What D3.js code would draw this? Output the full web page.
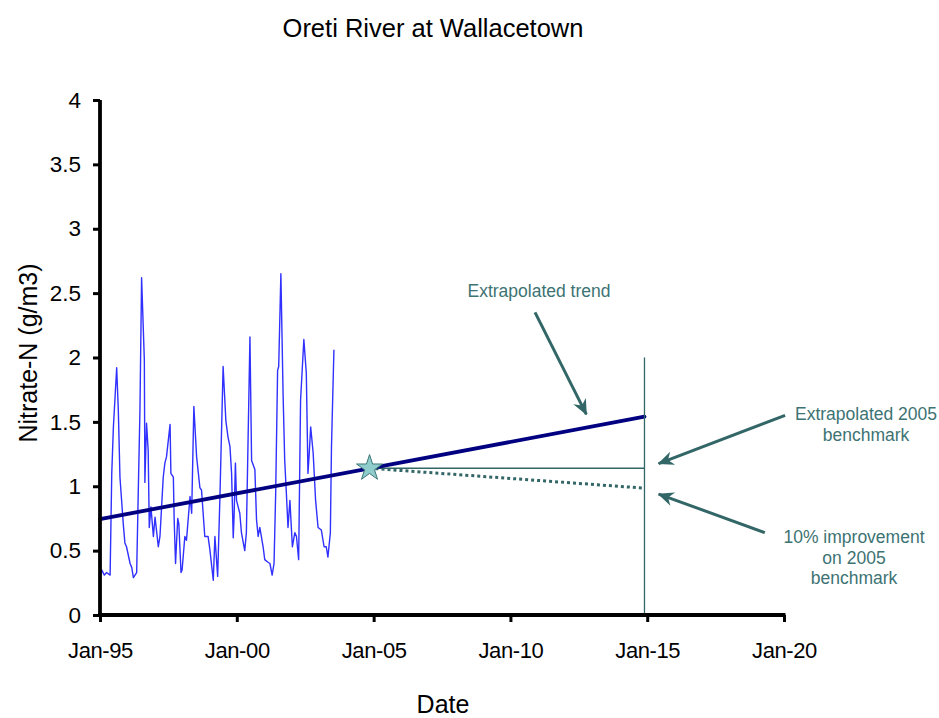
<!DOCTYPE html>
<html>
<head>
<meta charset="utf-8">
<script src="https://cdn.jsdelivr.net/npm/d3@7"></script>
<style>
  html, body { margin: 0; padding: 0; background: #fff; }
  svg { display: block; font-family: "Liberation Sans", Arial, sans-serif; }
</style>
</head>
<body>
<svg id="chart" width="939" height="718"></svg>
<script>
// ---------- data ----------
const sampleYears = [
  1995.00,1995.06,1995.16,1995.24,1995.37,1995.43,1995.49,1995.61,1995.67,1995.73,
  1995.85,1995.91,1995.97,1996.10,1996.16,1996.22,1996.34,1996.40,1996.46,1996.52,
  1996.62,1996.64,1996.70,1996.76,1996.80,1996.86,1996.95,1997.01,1997.13,1997.19,
  1997.31,1997.37,1997.43,1997.56,1997.59,1997.68,1997.71,1997.76,1997.84,1997.88,
  1997.96,1998.00,1998.10,1998.16,1998.29,1998.35,1998.43,1998.53,1998.65,1998.71,
  1998.83,1998.95,1999.02,1999.14,1999.20,1999.30,1999.38,1999.50,1999.60,1999.68,
  1999.75,1999.81,1999.87,1999.90,1999.95,1999.99,2000.11,2000.17,2000.29,2000.35,
  2000.48,2000.54,2000.66,2000.72,2000.78,2000.84,2000.96,2001.02,2001.14,2001.21,
  2001.29,2001.36,2001.42,2001.49,2001.53,2001.61,2001.69,2001.75,2001.81,2001.87,
  2001.94,2002.03,2002.12,2002.18,2002.26,2002.33,2002.45,2002.54,2002.60,2002.64,
  2002.70,2002.79,2002.88,2002.97,2003.09,2003.19,2003.27,2003.33,2003.42,2003.46,
  2003.55
];
const nitrate = [
  0.29,0.35,0.31,0.33,0.31,1.10,1.46,1.92,1.59,1.07,
  0.71,0.56,0.53,0.40,0.37,0.29,0.33,0.97,1.59,2.62,
  1.98,1.03,1.49,1.28,0.68,0.84,0.61,0.76,0.53,0.61,
  1.07,1.18,1.23,1.48,1.10,1.07,0.74,0.40,0.75,0.71,
  0.33,0.35,0.61,0.58,0.92,0.79,1.62,1.23,0.99,0.97,
  0.61,0.61,0.50,0.27,0.61,0.30,0.89,1.93,1.51,1.38,
  1.31,1.10,0.60,0.76,1.18,0.89,0.79,0.64,0.50,0.64,
  2.16,1.20,1.13,0.74,0.61,0.68,0.53,0.43,0.41,0.40,
  0.31,0.40,0.95,1.90,1.93,2.65,1.72,1.20,0.95,0.68,
  0.89,0.53,0.64,0.61,0.43,1.67,2.14,1.88,1.10,1.23,
  1.46,1.26,0.89,0.68,0.66,0.53,0.53,0.45,0.64,1.30,
  2.06
];
// extrapolated trend (start, end)
const trendYears = [1995.0, 2014.9];
const trendValues = [0.745, 1.54];
// 2005 benchmark point and lines
const benchmarkYear = 2004.85;
const benchmarkValue = 1.14;
const targetYear = 2014.9;
const improvedValue = 0.985;
// vertical target line (from value, to value)
const targetLineValues = [0, 2];

const xTickYears = [1995, 2000, 2005, 2010, 2015, 2020];
const xTickLabels = ["Jan-95", "Jan-00", "Jan-05", "Jan-10", "Jan-15", "Jan-20"];
const yTicks = [0, 0.5, 1, 1.5, 2, 2.5, 3, 3.5, 4];

// annotations: [fromYear, fromValue, toYear, toValue]
const arrows = [
  [2010.9, 2.35, 2012.84, 1.53],
  [2020.04, 1.55, 2015.28, 1.165],
  [2019.3, 0.64, 2015.28, 0.95]
];

// ---------- helpers ----------
const yearToDate = y => {
  const yr = Math.floor(y);
  const start = new Date(yr, 0, 1), end = new Date(yr + 1, 0, 1);
  return new Date(start.getTime() + (y - yr) * (end - start));
};

const svg = d3.select("#chart");
const x = d3.scaleTime()
  .domain([new Date(1995, 0, 1), new Date(2020, 0, 1)])
  .range([100, 784]);
const y = d3.scaleLinear().domain([0, 4]).range([615, 100]);

const teal = "#336666";
const tealText = "#3d7373";

// ---------- title & labels ----------
svg.append("text").attr("x", 433).attr("y", 37).attr("text-anchor", "middle")
  .attr("font-size", 25.5).attr("fill", "#000").text("Oreti River at Wallacetown");
svg.append("text").attr("transform", "translate(37,353) rotate(-90)")
  .attr("text-anchor", "middle").attr("font-size", 25).attr("fill", "#000")
  .text("Nitrate-N (g/m3)");
svg.append("text").attr("x", 443).attr("y", 713).attr("text-anchor", "middle")
  .attr("font-size", 25).attr("fill", "#000").text("Date");

// ---------- data line ----------
const series = sampleYears.map((yy, i) => ({ d: yearToDate(yy), v: nitrate[i] }));
const line = d3.line().x(p => x(p.d)).y(p => y(p.v));
svg.append("path").datum(series).attr("d", line)
  .attr("fill", "none").attr("stroke", "#3030ff").attr("stroke-width", 1.4)
  .attr("stroke-linejoin", "round");

// benchmark horizontal line
svg.append("line")
  .attr("x1", x(yearToDate(benchmarkYear))).attr("y1", y(benchmarkValue))
  .attr("x2", x(yearToDate(targetYear))).attr("y2", y(benchmarkValue))
  .attr("stroke", teal).attr("stroke-width", 1.3);

// 10% improvement dotted line
svg.append("line")
  .attr("x1", x(yearToDate(benchmarkYear))).attr("y1", y(benchmarkValue))
  .attr("x2", x(yearToDate(targetYear))).attr("y2", y(improvedValue))
  .attr("stroke", teal).attr("stroke-width", 3).attr("stroke-dasharray", "3,3");

// trend line
svg.append("line")
  .attr("x1", x(yearToDate(trendYears[0]))).attr("y1", y(trendValues[0]))
  .attr("x2", x(yearToDate(trendYears[1]))).attr("y2", y(trendValues[1]))
  .attr("stroke", "#000080").attr("stroke-width", 3.8).attr("stroke-linecap", "round");

// vertical target line
svg.append("line")
  .attr("x1", x(yearToDate(targetYear))).attr("x2", x(yearToDate(targetYear)))
  .attr("y1", y(targetLineValues[1])).attr("y2", y(targetLineValues[0]))
  .attr("stroke", teal).attr("stroke-width", 1.3);

// star
svg.append("path")
  .attr("d", d3.symbol().type(d3.symbolStar).size(210)())
  .attr("transform", `translate(${x(yearToDate(benchmarkYear))},${y(benchmarkValue)})`)
  .attr("fill", "#8fcccc").attr("stroke", "#3f7777").attr("stroke-width", 1);

// ---------- axes ----------
const yAxis = d3.axisLeft(y).tickValues(yTicks).tickSize(7).tickPadding(12)
  .tickFormat(d => String(d));
const gy = svg.append("g").attr("transform", "translate(100,0)").call(yAxis);
gy.select(".domain").attr("stroke", "#000").attr("stroke-width", 3.8)
  .attr("d", `M0,${y(4)}V${y(0)}`);
gy.selectAll(".tick line").attr("stroke", "#000").attr("stroke-width", 3);
gy.selectAll(".tick text").attr("font-size", 22.5).attr("fill", "#000")
  .attr("font-family", "Liberation Sans, Arial, sans-serif");

const xAxis = d3.axisBottom(x).tickValues(xTickYears.map(yy => new Date(yy, 0, 1)))
  .tickSize(7).tickFormat((d, i) => xTickLabels[i]);
const gx = svg.append("g").attr("transform", "translate(0,615)").call(xAxis);
gx.select(".domain").attr("stroke", "#000").attr("stroke-width", 3.8)
  .attr("d", `M${x.range()[0] - 1.9},0H${x.range()[1] + 1.5}`);
gx.selectAll(".tick line").attr("stroke", "#000").attr("stroke-width", 3);
gx.selectAll(".tick text").attr("font-size", 22).attr("fill", "#000")
  .attr("y", 27).attr("letter-spacing", -0.4)
  .attr("font-family", "Liberation Sans, Arial, sans-serif");

// ---------- annotations ----------
const defs = svg.append("defs");
defs.append("marker").attr("id", "arrow").attr("viewBox", "-16 -8 18 16")
  .attr("refX", 0).attr("refY", 0).attr("markerWidth", 18).attr("markerHeight", 16)
  .attr("markerUnits", "userSpaceOnUse").attr("orient", "auto")
  .append("path").attr("d", "M1,0 L-15,-7 L-10,0 L-15,7 Z").attr("fill", teal);

arrows.forEach(a => {
  const x1 = x(yearToDate(a[0])), y1 = y(a[1]);
  const x2 = x(yearToDate(a[2])), y2 = y(a[3]);
  const dx = x2 - x1, dy = y2 - y1, len = Math.hypot(dx, dy);
  svg.append("line").attr("x1", x1).attr("y1", y1)
    .attr("x2", x2 - dx / len * 4).attr("y2", y2 - dy / len * 4)
    .attr("stroke", teal).attr("stroke-width", 3).attr("marker-end", "url(#arrow)");
});

const notes = [
  { cx: 539, lines: ["Extrapolated trend"], y0: 297 },
  { cx: 866, lines: ["Extrapolated 2005", "benchmark"], y0: 420 },
  { cx: 854, lines: ["10% improvement", "on 2005", "benchmark"], y0: 543 }
];
notes.forEach(n => {
  const t = svg.append("text").attr("text-anchor", "middle").attr("font-size", 17.5)
    .attr("fill", tealText);
  n.lines.forEach((s, i) => {
    t.append("tspan").attr("x", n.cx).attr("y", n.y0 + i * 20.5).text(s);
  });
});
</script>
</body>
</html>
